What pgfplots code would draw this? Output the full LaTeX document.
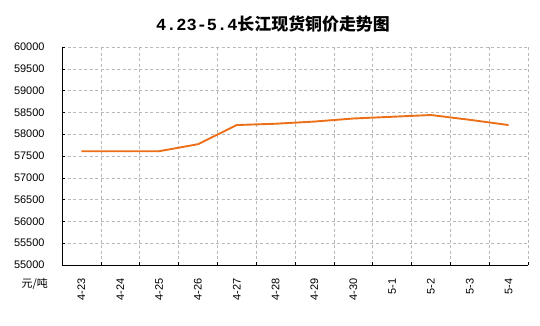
\documentclass[border=0pt]{standalone}
\usepackage{fontspec}
\usepackage{pgfplots}
\pgfplotsset{compat=1.18}
\setmainfont{Liberation Sans}
\newfontfamily\cjk{Noto Sans CJK SC}
\newfontfamily\mono{Liberation Mono}
\definecolor{lineorange}{RGB}{235,112,25}
\definecolor{gridgray}{RGB}{185,185,185}
\begin{document}
\begin{tikzpicture}
\useasboundingbox (0,0) rectangle (540bp,326bp);
\begin{axis}[
  scale only axis, width=466bp, height=218bp,
  at={(62bp,61bp)}, anchor=south west,
  xmin=-0.5, xmax=11.5, ymin=55000, ymax=60000,
  axis x line*=bottom, axis y line*=left,
  axis line style={-, black, line width=0.8bp},
  ytick={55000,55500,...,60000},
  scaled y ticks=false,
  /pgf/number format/1000 sep={},
  /pgf/number format/assume math mode=true,
  ymajorgrids,
  xtick={0,...,11},
  xticklabels={4-23,4-24,4-25,4-26,4-27,4-28,4-29,4-30,5-1,5-2,5-3,5-4},
  minor xtick={0.5,1.5,...,11.5},
  xminorgrids,
  major x tick style={draw=none},
  tick align=inside,
  major tick length=3bp, minor tick length=3bp,
  tick style={black, line width=0.6bp},
  grid style={gridgray, dash pattern=on 3bp off 2.5bp, line width=0.6bp},
  minor grid style={gridgray, dash pattern=on 3bp off 2.5bp, line width=0.6bp},
  ticklabel style={font=\fontsize{11}{13}\selectfont},
  yticklabel style={anchor=east, xshift=-14bp},
  xticklabel style={rotate=90, anchor=east, xshift=-10bp},
]
\addplot[color=lineorange, line width=1.9bp, mark=none] coordinates {
  (0,57610) (1,57610) (2,57610) (3,57770) (4,58210) (5,58240)
  (6,58290) (7,58360) (8,58400) (9,58440) (10,58330) (11,58210)
};
\end{axis}
\node[font=\fontsize{17}{20}\selectfont] at (273bp,302bp)
  {{\mono\bfseries 4.23-5.4}{\cjk\bfseries 长江现货铜价走势图}};
\node[anchor=east, inner sep=0pt, font=\cjk\fontsize{11}{13}\selectfont] at (48bp,42.5bp) {元/吨};
\end{tikzpicture}
\end{document}
